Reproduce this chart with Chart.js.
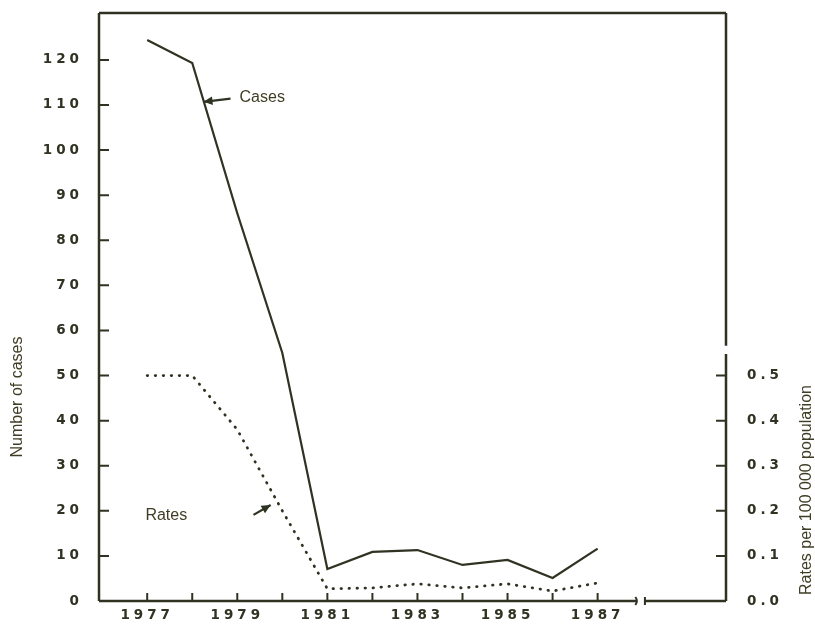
<!DOCTYPE html>
<html>
<head>
<meta charset="utf-8">
<script src="https://cdn.jsdelivr.net/npm/chart.js@4.4.0/dist/chart.umd.min.js"></script>
<style>
  html, body { margin: 0; padding: 0; background: #fff; }
  #wrap { width: 815px; height: 626px; }
</style>
</head>
<body>
<div id="wrap"><canvas id="chart" width="815" height="626"></canvas></div>
<script>
// Data
const years = [1977, 1978, 1979, 1980, 1981, 1982, 1983, 1984, 1985, 1986, 1987];
const yearLabels = [1977, 1979, 1981, 1983, 1985, 1987];
const cases = [124.4, 119.3, 86, 55, 7.1, 10.9, 11.3, 8.0, 9.1, 5.1, 11.6];
const rates = [0.5, 0.5, 0.38, 0.2, 0.027, 0.029, 0.038, 0.029, 0.038, 0.022, 0.04];
const caseTicks = [0, 10, 20, 30, 40, 50, 60, 70, 80, 90, 100, 110, 120];
const rateTicks = [0, 0.1, 0.2, 0.3, 0.4, 0.5];

// axis breaks (data units)
const xBreak = [1987.86, 1988.05];
const rateBreak = [0.548, 0.566];

const ink = '#2f3322';
const textInk = '#3f3d24';

// "Cases" / "Rates" labels with arrows, placed in data units
const notes = [
  { text: 'Cases', at: [1979.05, 111.6], from: [1978.85, 111.4], to: [1978.25, 110.7] },
  { text: 'Rates', at: [1976.96, 18.9], from: [1979.36, 19.1], to: [1979.74, 21.3] }
];

function arrow(ctx, x1, y1, x2, y2) {
  const a = Math.atan2(y2 - y1, x2 - x1);
  ctx.beginPath();
  ctx.moveTo(x1, y1);
  ctx.lineTo(x2, y2);
  ctx.lineWidth = 2.2;
  ctx.stroke();
  ctx.beginPath();
  ctx.moveTo(x2, y2);
  ctx.lineTo(x2 - 10 * Math.cos(a - 0.45), y2 - 10 * Math.sin(a - 0.45));
  ctx.lineTo(x2 - 10 * Math.cos(a + 0.45), y2 - 10 * Math.sin(a + 0.45));
  ctx.closePath();
  ctx.fill();
}

// no label-driven padding, so the plot box sits where the print has it
function noPad(s) {
  s.paddingTop = 0;
  s.paddingBottom = 0;
  s.paddingLeft = 0;
  s.paddingRight = 0;
}

const framePlugin = {
  id: 'frame',
  beforeDraw(chart) {
    chart.ctx.letterSpacing = '0px';
  },
  afterDatasetsDraw(chart) {
    // tick labels are drawn after this (ticks.z = 1), spaced out like the print
    chart.ctx.letterSpacing = '4px';
  },
  afterDraw(chart) {
    const ctx = chart.ctx;
    ctx.letterSpacing = '0px';
    const { left, right, top, bottom } = chart.chartArea;
    const sx = chart.scales.x, sy = chart.scales.y, sr = chart.scales.y2;
    ctx.save();
    ctx.strokeStyle = ink;
    ctx.fillStyle = ink;
    ctx.lineWidth = 2.5;

    // box
    const bx1 = sx.getPixelForValue(xBreak[0]);
    const bx2 = sx.getPixelForValue(xBreak[1]);
    const ry1 = sr.getPixelForValue(rateBreak[1]);
    const ry2 = sr.getPixelForValue(rateBreak[0]);
    ctx.beginPath();
    ctx.moveTo(left, top); ctx.lineTo(right, top);
    ctx.moveTo(left, top); ctx.lineTo(left, bottom);
    ctx.moveTo(left, bottom); ctx.lineTo(bx1, bottom);
    ctx.moveTo(bx2, bottom); ctx.lineTo(right, bottom);
    ctx.moveTo(right, top); ctx.lineTo(right, ry1);
    ctx.moveTo(right, ry2); ctx.lineTo(right, bottom);
    ctx.stroke();

    // break marks
    ctx.lineWidth = 2;
    ctx.beginPath();
    ctx.moveTo(bx1 - 1, bottom - 4); ctx.quadraticCurveTo(bx1 + 2, bottom, bx1 - 1, bottom + 4);
    ctx.moveTo(bx2, bottom - 4); ctx.lineTo(bx2, bottom + 4);
    ctx.stroke();

    // inward tick marks
    ctx.beginPath();
    caseTicks.forEach(v => {
      if (v === 0) return;
      const p = sy.getPixelForValue(v);
      ctx.moveTo(left, p); ctx.lineTo(left + 10, p);
    });
    years.forEach(v => {
      const p = sx.getPixelForValue(v);
      ctx.moveTo(p, bottom); ctx.lineTo(p, bottom - 8);
    });
    rateTicks.forEach(v => {
      if (v === 0) return;
      const p = sr.getPixelForValue(v);
      ctx.moveTo(right, p); ctx.lineTo(right - 10, p);
    });
    ctx.stroke();

    // notes
    ctx.font = '16px "Liberation Sans", Arial, sans-serif';
    ctx.textBaseline = 'middle';
    ctx.textAlign = 'left';
    notes.forEach(n => {
      ctx.fillStyle = textInk;
      ctx.fillText(n.text, sx.getPixelForValue(n.at[0]), sy.getPixelForValue(n.at[1]));
      ctx.fillStyle = ink;
      arrow(ctx, sx.getPixelForValue(n.from[0]), sy.getPixelForValue(n.from[1]),
        sx.getPixelForValue(n.to[0]), sy.getPixelForValue(n.to[1]));
    });

    // axis titles
    ctx.fillStyle = textInk;
    ctx.textAlign = 'center';
    ctx.save();
    ctx.translate(18, 397);
    ctx.rotate(-Math.PI / 2);
    ctx.fillText('Number of cases', 0, 0);
    ctx.restore();
    ctx.save();
    ctx.translate(807, 490);
    ctx.rotate(-Math.PI / 2);
    ctx.fillText('Rates per 100 000 population', 0, 0);
    ctx.restore();

    ctx.restore();
  }
};

const tickFont = { family: '"DejaVu Sans", sans-serif', size: 13.5, weight: 'bold' };

new Chart(document.getElementById('chart'), {
  type: 'line',
  data: {
    datasets: [{
      label: 'Cases',
      data: years.map((y, i) => ({ x: y, y: cases[i] })),
      yAxisID: 'y',
      borderColor: ink,
      borderWidth: 2.2,
      pointRadius: 0,
      tension: 0
    }, {
      label: 'Rates',
      data: years.map((y, i) => ({ x: y, y: rates[i] })),
      yAxisID: 'y2',
      borderColor: ink,
      borderWidth: 2.8,
      borderDash: [0.5, 7.5],
      borderCapStyle: 'round',
      pointRadius: 0,
      tension: 0
    }]
  },
  options: {
    responsive: false,
    animation: false,
    layout: { padding: { top: 13, left: 0, right: 0, bottom: 0 } },
    plugins: {
      legend: { display: false },
      tooltip: { enabled: false }
    },
    scales: {
      x: {
        type: 'linear',
        position: 'bottom',
        bounds: 'data',
        min: 1975.93,
        max: 1989.85,
        grid: { display: false, drawTicks: false },
        border: { display: false },
        afterBuildTicks: s => { s.ticks = years.map(v => ({ value: v })); },
        afterFit: s => { s.height = 25; noPad(s); },
        ticks: {
          z: 1,
          autoSkip: false,
          maxRotation: 0,
          padding: 6,
          color: ink,
          font: tickFont,
          callback: v => yearLabels.includes(v) ? String(v) : ''
        }
      },
      y: {
        position: 'left',
        min: 0,
        max: 130.4,
        grid: { display: false, drawTicks: false },
        border: { display: false },
        afterBuildTicks: s => { s.ticks = caseTicks.map(v => ({ value: v })); },
        afterFit: s => { s.width = 99; noPad(s); },
        ticks: {
          z: 1,
          padding: 16,
          color: ink,
          font: tickFont,
          callback: v => String(v)
        }
      },
      y2: {
        position: 'right',
        min: 0,
        max: 1.304,
        grid: { display: false, drawTicks: false },
        border: { display: false },
        afterBuildTicks: s => { s.ticks = rateTicks.map(v => ({ value: v })); },
        afterFit: s => { s.width = 89; noPad(s); },
        ticks: {
          z: 1,
          padding: 21,
          color: ink,
          font: tickFont,
          callback: v => v.toFixed(1)
        }
      }
    }
  },
  plugins: [framePlugin]
});
</script>
</body>
</html>
